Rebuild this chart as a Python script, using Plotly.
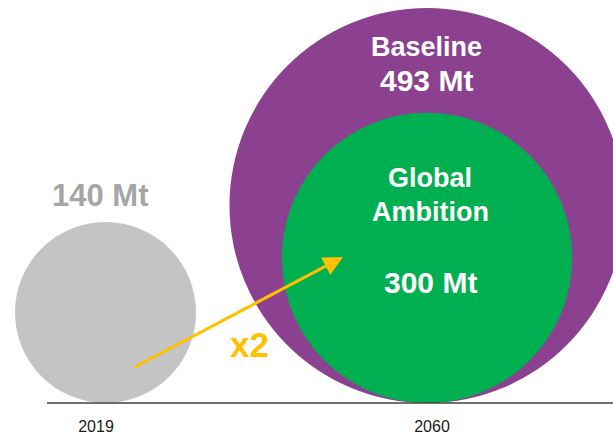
import plotly.graph_objects as go

# Emissions by scenario (Mt)
years = ["2019", "2060"]
value_2019 = 140
scenario_names = ["Baseline", "Global Ambition"]
scenario_values = [493, 300]
growth_label = "x2"

W, H = 613, 439
BOTTOM = 36
PLOT_H = H - BOTTOM  # one data unit == one pixel on both axes

GRAY = "#C4C4C4"
GRAY_TEXT = "#A6A6A6"
PURPLE = "#8B418F"
GREEN = "#00B050"
GOLD = "#FFC000"
FONT = "Liberation Sans, Arial, sans-serif"

# bubble centres along the baseline and radius scale
cx_2019, cx_2060 = 105.5, 427.0
label_x = [96, 432]


def radius(v):
    return 4.227 * v ** 0.62


def circle(cx, v, color):
    r = radius(v)
    return dict(type="circle", xref="x", yref="y", x0=cx - r, x1=cx + r,
                y0=0, y1=2 * r, fillcolor=color, line=dict(width=0),
                layer="below")


fig = go.Figure()
fig.add_trace(go.Scatter(x=[None], y=[None], showlegend=False, hoverinfo="skip"))

shapes = [
    circle(cx_2019, value_2019, GRAY),
    circle(cx_2060, scenario_values[0], PURPLE),
    circle(cx_2060, scenario_values[1], GREEN),
    dict(type="line", xref="paper", yref="paper", x0=47 / W, x1=1, y0=0, y1=0,
         line=dict(color="#404040", width=1.3)),
]


def label(x, y, text, size, color):
    return dict(x=x, y=y, xref="x", yref="y", text=f"<b>{text}</b>",
                showarrow=False, font=dict(family=FONT, size=size, color=color),
                xanchor="center", yanchor="middle")


amb_words = scenario_names[1].split(" ")
annotations = [
    label(100, 208, f"{value_2019} Mt", 31, GRAY_TEXT),
    label(426, 356, scenario_names[0], 27, "white"),
    label(426, 323, f"{scenario_values[0]} Mt", 30, "white"),
    label(430, 225, amb_words[0], 27, "white"),
    label(430, 191, amb_words[1], 27, "white"),
    label(430, 121, f"{scenario_values[1]} Mt", 30, "white"),
    label(249, 59, growth_label, 35, GOLD),
    # growth arrow from the 2019 bubble into the 2060 bubbles
    dict(x=343, y=146, ax=133, ay=35, xref="x", yref="y", axref="x", ayref="y",
         text="", showarrow=True, arrowhead=2, arrowsize=1.3, arrowwidth=3,
         arrowcolor=GOLD, standoff=0, startstandoff=0),
]

fig.update_layout(
    width=W, height=H,
    margin=dict(l=0, r=0, t=0, b=BOTTOM),
    paper_bgcolor="white", plot_bgcolor="white",
    shapes=shapes, annotations=annotations, showlegend=False,
    xaxis=dict(range=[0, W], showgrid=False, zeroline=False, showline=False,
               tickmode="array", tickvals=label_x, ticktext=years,
               tickfont=dict(family=FONT, size=16, color="#1a1a1a"),
               ticks="", ticklabelstandoff=12, fixedrange=True),
    yaxis=dict(range=[0, PLOT_H], showgrid=False, zeroline=False,
               showline=False, showticklabels=False, fixedrange=True),
)

fig.write_html("out.html")
